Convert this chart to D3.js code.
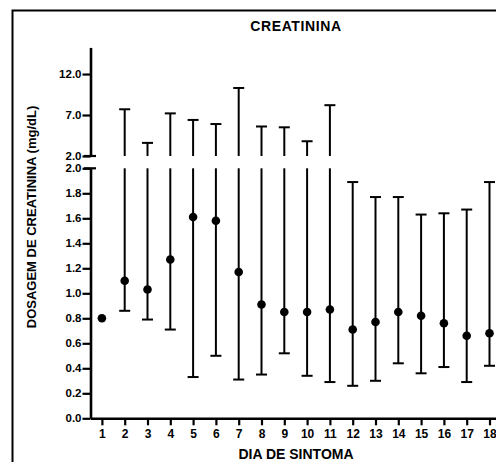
<!DOCTYPE html>
<html>
<head>
<meta charset="utf-8">
<script src="https://cdn.jsdelivr.net/npm/d3@7"></script>
<style>
  html, body { margin: 0; padding: 0; background: #fff; }
  svg { display: block; }
  text { font-family: "Liberation Sans", Arial, sans-serif; font-weight: bold; fill: #000; }
</style>
</head>
<body>
<svg id="chart" width="496" height="462"></svg>
<script>
// Creatinine by symptom day: central value with min–max range
const days  = [1, 2, 3, 4, 5, 6, 7, 8, 9, 10, 11, 12, 13, 14, 15, 16, 17, 18];
const mid   = [0.80, 1.10, 1.03, 1.27, 1.61, 1.58, 1.17, 0.91, 0.85, 0.85, 0.87, 0.71, 0.77, 0.85, 0.82, 0.76, 0.66, 0.68];
const low   = [null, 0.86, 0.79, 0.71, 0.33, 0.50, 0.31, 0.35, 0.52, 0.34, 0.29, 0.26, 0.30, 0.44, 0.36, 0.41, 0.29, 0.42];
const high  = [null, 7.7, 3.6, 7.2, 6.4, 5.9, 10.3, 5.6, 5.5, 3.8, 8.2, 1.89, 1.77, 1.77, 1.63, 1.64, 1.67, 1.89];
const lowerTicks = [0.0, 0.2, 0.4, 0.6, 0.8, 1.0, 1.2, 1.4, 1.6, 1.8, 2.0];
const upperTicks = [2.0, 7.0, 12.0];
const BREAK = 2.0;

const svg = d3.select("#chart");

// outer frame
svg.append("rect")
  .attr("x", 12.5).attr("y", 10.5)
  .attr("width", 600).attr("height", 600)
  .attr("fill", "none").attr("stroke", "#000").attr("stroke-width", 2);

// scales: one x, two y segments around the axis break
const x = d3.scaleLinear().domain([0.5, 19]).range([90.5, 90.5 + 18.5 * 22.8]);
const yLo = d3.scaleLinear().domain([0, BREAK]).range([418.3, 168.3]);
const yHi = d3.scaleLinear().domain([BREAK, 15.25]).range([156, 47.4]);

const fmt = d3.format(".1f");

function styleAxis(g) {
  g.select(".domain").attr("stroke-width", 2.6);
  g.selectAll(".tick line").attr("stroke-width", 2.2);
  g.selectAll(".tick text").style("font-size", "11.5px").style("font-family", "'Liberation Sans', Arial, sans-serif").style("font-weight", "bold");
}

// lower y axis
const gLo = svg.append("g").attr("transform", "translate(90.5,0)")
  .call(d3.axisLeft(yLo).tickValues(lowerTicks).tickFormat(fmt).tickSize(8).tickPadding(1).tickSizeOuter(0));
styleAxis(gLo);

// upper y axis
const gHi = svg.append("g").attr("transform", "translate(90.5,0)")
  .call(d3.axisLeft(yHi).tickValues(upperTicks).tickFormat(fmt).tickSize(8).tickPadding(1).tickSizeOuter(0));
styleAxis(gHi);

// break marks crossing the axis at both ends of the gap
[yHi(BREAK), yLo(BREAK)].forEach(yy => {
  svg.append("line")
    .attr("x1", 84).attr("x2", 96)
    .attr("y1", yy).attr("y2", yy)
    .attr("stroke", "#000").attr("stroke-width", 2.2);
});

// x axis
const gx = svg.append("g").attr("transform", `translate(0,${yLo(0)})`)
  .call(d3.axisBottom(x).tickValues(days).tickFormat(d3.format("d")).tickSize(7).tickPadding(4).tickSizeOuter(0));
styleAxis(gx);
gx.selectAll(".tick text").style("font-size", "12px");

// error bars, split across the break
const data = days.map((d, i) => ({ day: d, mid: mid[i], low: low[i], high: high[i] }));
const bars = svg.append("g").attr("stroke", "#000").attr("stroke-width", 2).attr("fill", "none");
const capW = 5.5;

data.filter(d => d.low !== null).forEach(d => {
  const cx = x(d.day);
  if (d.high > BREAK) {
    // lower segment: low up to top of lower axis
    bars.append("line").attr("x1", cx).attr("x2", cx).attr("y1", yLo(d.low)).attr("y2", yLo(BREAK));
    // upper segment: bottom of upper axis up to high
    bars.append("line").attr("x1", cx).attr("x2", cx).attr("y1", yHi(BREAK)).attr("y2", yHi(d.high));
    bars.append("line").attr("x1", cx - capW).attr("x2", cx + capW).attr("y1", yHi(d.high)).attr("y2", yHi(d.high));
  } else {
    bars.append("line").attr("x1", cx).attr("x2", cx).attr("y1", yLo(d.low)).attr("y2", yLo(d.high));
    bars.append("line").attr("x1", cx - capW).attr("x2", cx + capW).attr("y1", yLo(d.high)).attr("y2", yLo(d.high));
  }
  bars.append("line").attr("x1", cx - capW).attr("x2", cx + capW).attr("y1", yLo(d.low)).attr("y2", yLo(d.low));
});

// central points
svg.append("g").selectAll("circle").data(data).join("circle")
  .attr("cx", d => x(d.day)).attr("cy", d => yLo(d.mid))
  .attr("r", 4.3).attr("fill", "#000");

// title and axis labels
svg.append("text").attr("x", 296).attr("y", 31).attr("text-anchor", "middle")
  .style("font-size", "14px").style("letter-spacing", "0.6px").text("CREATININA");

svg.append("text").attr("x", 296).attr("y", 458.5).attr("text-anchor", "middle")
  .style("font-size", "14px").text("DIA DE SINTOMA");

svg.append("text")
  .attr("transform", "translate(36,217) rotate(-90)")
  .attr("text-anchor", "middle")
  .style("font-size", "13px").text("DOSAGEM DE CREATININA (mg/dL)");
</script>
</body>
</html>
